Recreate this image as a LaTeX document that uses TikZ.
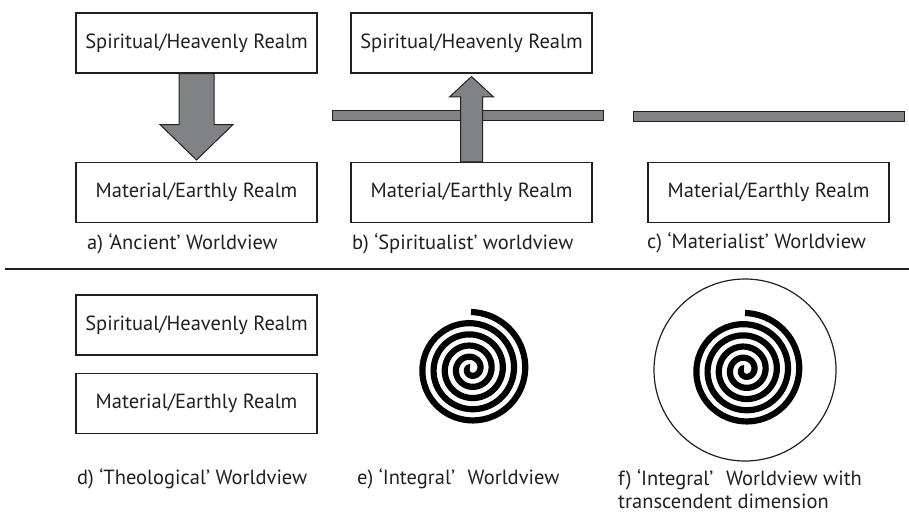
\documentclass[tikz,border=0pt]{standalone}
\usepackage{fontspec}
\setmainfont{PT Sans}
\usetikzlibrary{calc}
\definecolor{ink}{HTML}{231F20}
\definecolor{bargray}{HTML}{808285}
\begin{document}
\begin{tikzpicture}[x=1pt,y=-1pt,
  realm/.style={draw=ink, line width=1.1pt, minimum width=241pt, minimum height=60pt, inner sep=0pt, font=\fontsize{20.5}{24}\selectfont, text=ink},
  caption/.style={anchor=west, inner sep=0pt, font=\fontsize{20.5}{23}\selectfont, text=ink, align=left},
  blockarrow/.style={fill=bargray, draw=ink, line width=1pt, line join=miter},
  bar/.style={fill=bargray, draw=ink, line width=1pt, inner sep=0pt},
  spiralline/.style={line width=6.2pt, draw=black, line cap=butt},
  halo/.style={circle, draw=ink, line width=1.2pt, minimum size=182pt, inner sep=0pt}
]
\useasboundingbox (0,0) rectangle (909,514);

% --- a) Ancient
\node[realm] (a1) at (196.5,43) {Spiritual/Heavenly Realm};
\node[realm] (a2) at (196.5,192.5) {Material/Earthly Realm};
\draw[blockarrow] ($(a1.south)+(-17.5,0)$) -- ($(a1.south)+(-17.5,51)$) -- ($(a1.south)+(-36.5,51)$)
  -- ($(a2.north)+(0,-2)$) -- ($(a1.south)+(36.5,51)$) -- ($(a1.south)+(17.5,51)$)
  -- ($(a1.south)+(17.5,0)$) -- cycle;
\node[caption] (capa) at (87,244) {a) ‘Ancient’ Worldview};

% --- b) Spiritualist
\node[realm] (b1) at (471.5,43) {Spiritual/Heavenly Realm};
\node[realm] (b2) at (471.5,192.5) {Material/Earthly Realm};
\node[bar, minimum width=271pt, minimum height=9.5pt] (barb) at (467.5,115.5) {};
\draw[blockarrow] ($(b2.north)+(-11,0)$) -- ($(b2.north)+(-11,-65)$) -- ($(b2.north)+(-22,-65)$)
  -- ($(b1.south)+(0,3)$) -- ($(b2.north)+(22,-65)$) -- ($(b2.north)+(11,-65)$)
  -- ($(b2.north)+(11,0)$) -- cycle;
\node[caption] (capb) at (352,244) {b) ‘Spiritualist’ worldview};

% --- c) Materialist
\node[bar, minimum width=271pt, minimum height=10pt] (barc) at (768.5,116) {};
\node[realm] (c2) at (768.5,192.5) {Material/Earthly Realm};
\node[caption] (capc) at (647,243) {c) ‘Materialist’ Worldview};

% --- separator
\coordinate (sepL) at (5,269);
\coordinate (sepR) at (909,269);
\draw[ink, line width=1.5pt] (sepL) -- (sepR);

% --- d) Theological
\node[realm] (d1) at (196.5,325) {Spiritual/Heavenly Realm};
\node[realm] (d2) at (196.5,403.5) {Material/Earthly Realm};
\node[caption] (capd) at (77,479) {d) ‘Theological’ Worldview};

% --- e) Integral
\coordinate (spe) at (471,369);
\begin{scope}[shift={(spe)}]
  \draw[spiralline] plot[domain=123:1890, samples=500, smooth, variable=\t]
    ({(57-(1890-\t)*0.03115)*cos(\t)}, {-(57-(1890-\t)*0.03115)*sin(\t)});
\end{scope}
\node[caption] (cape) at (357,479) {e) ‘Integral’\hspace{0.35em} Worldview};

% --- f) Integral with transcendent dimension
\node[halo] (circf) at (745,370) {};
\begin{scope}[shift={(circf.center)}]
  \draw[spiralline] plot[domain=123:1890, samples=500, smooth, variable=\t]
    ({(57-(1890-\t)*0.03115)*cos(\t)}, {-(57-(1890-\t)*0.03115)*sin(\t)});
\end{scope}
\node[caption] (capf) at (618,489) {f) ‘Integral’\hspace{0.35em} Worldview with\\transcendent dimension};
\end{tikzpicture}
\end{document}
